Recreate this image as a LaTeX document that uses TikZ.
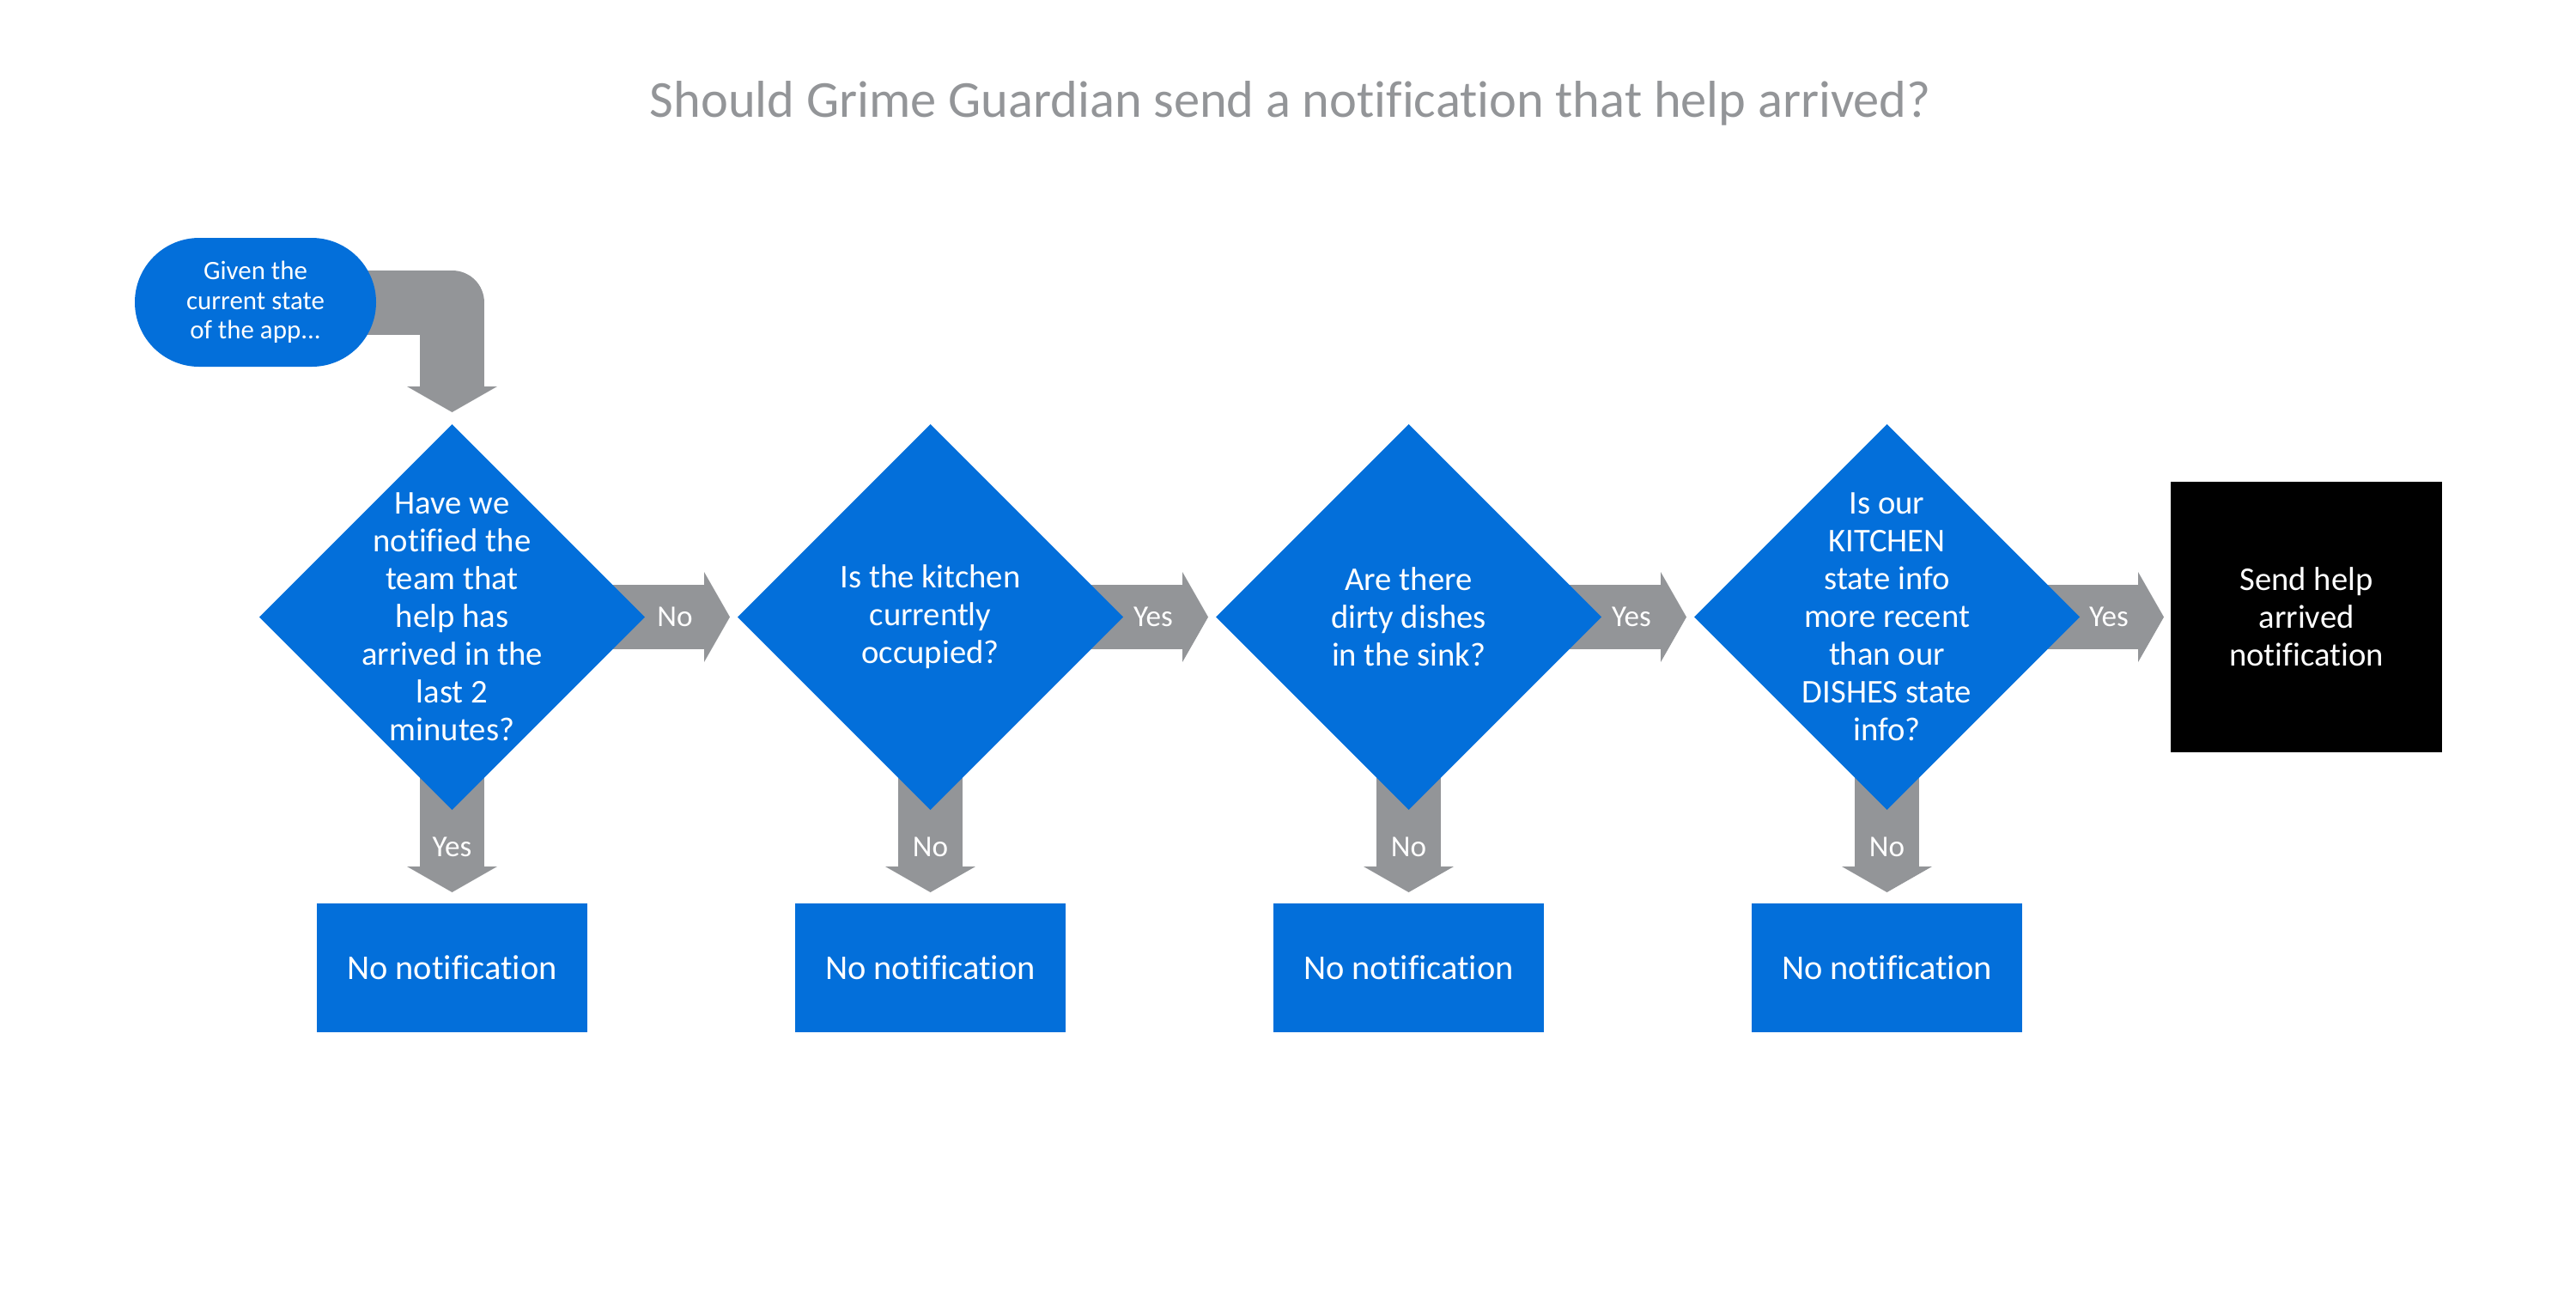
\documentclass[tikz,border=0pt]{standalone}
\usepackage{fontspec}
\setmainfont[Ligatures={NoCommon}]{Carlito}
\usetikzlibrary{positioning,shapes.geometric,arrows.meta,backgrounds}
\definecolor{ggblue}{RGB}{3,111,218}
\definecolor{gggray}{RGB}{147,149,152}
\tikzset{
    question/.style={diamond,aspect=1,fill=ggblue,minimum size=4.49cm,inner sep=0pt,outer sep=0pt},
    qtext/.style={text=white,align=center,font=\fontsize{11}{12.5}\selectfont},
    nobox/.style={rectangle,fill=ggblue,text=white,minimum width=3.15cm,minimum height=1.5cm,outer sep=0pt,font=\fontsize{11.5}{13}\selectfont},
    sendbox/.style={rectangle,fill=black,text=white,align=center,minimum width=3.16cm,minimum height=3.15cm,outer sep=0pt,font=\fontsize{11}{12.5}\selectfont},
    startbox/.style={rectangle,rounded corners=0.75cm,fill=ggblue,text=white,align=center,minimum width=2.81cm,minimum height=1.5cm,font=\fontsize{8.8}{9.8}\selectfont},
    flow/.style={draw=gggray,line width=0.75cm,-{Triangle[length=0.3cm,width=1.05cm,line width=0pt]}},
    flowlabel/.style={text=white,font=\fontsize{10}{12}\selectfont},
}
\begin{document}
\begin{tikzpicture}
    \useasboundingbox (0,0) rectangle (30,-15);
    %% title
    \node[text=gggray,font=\fontsize{17.2}{20}\selectfont] (title) at (15.03,-1.2) {Should Grime Guardian send a notification that help arrived?};
    %% start
    \node[startbox] (start) at (2.975,-3.52) {Given the\\current state\\of the app...};
    %% questions
    \node[question] (d1) at (5.265,-7.185) {};
    \node[question,right=1.08cm of d1] (d2) {};
    \node[question,right=1.08cm of d2] (d3) {};
    \node[question,right=1.08cm of d3] (d4) {};
    \node[qtext] (d1text) at (d1) {Have we\\notified the\\team that\\help has\\arrived in the\\last 2\\minutes?};
    \node[qtext] (d2text) at (d2) {Is the kitchen\\currently\\occupied?};
    \node[qtext] (d3text) at (d3) {Are there\\dirty dishes\\in the sink?};
    \node[qtext] (d4text) at (d4) {Is our\\KITCHEN\\state info\\more recent\\than our\\DISHES state\\info?};
    %% outcomes
    \foreach \i in {1,...,4}
        \node[nobox,below=1.09cm of d\i] (n\i) {No notification};
    \node[sendbox,right=1.06cm of d4] (send) {Send help\\arrived\\notification};
    %% arrows
    \begin{scope}[on background layer]
        \draw[flow,line join=round,shorten >=0.14cm] (start.center) -| (d1.north);
        \foreach \a/\b/\t in {d1/d2/No,d2/d3/Yes,d3/d4/Yes}
        {
            \draw[flow,shorten >=0.09cm] (\a.center) -- (\b.west);
            \node[flowlabel] (\a label) at ([xshift=0.35cm]\a.east) {\t};
        }
        \draw[flow,shorten >=0.08cm] (d4.center) -- (send.west);
        \node[flowlabel] (d4label) at ([xshift=0.34cm]d4.east) {Yes};
        \foreach \q/\t in {1/Yes,2/No,3/No,4/No}
        {
            \draw[flow,shorten >=0.13cm] (d\q.center) -- (n\q.north);
            \node[flowlabel] (d\q down) at ([yshift=-0.43cm]d\q.south) {\t};
        }
    \end{scope}
\end{tikzpicture}
\end{document}
